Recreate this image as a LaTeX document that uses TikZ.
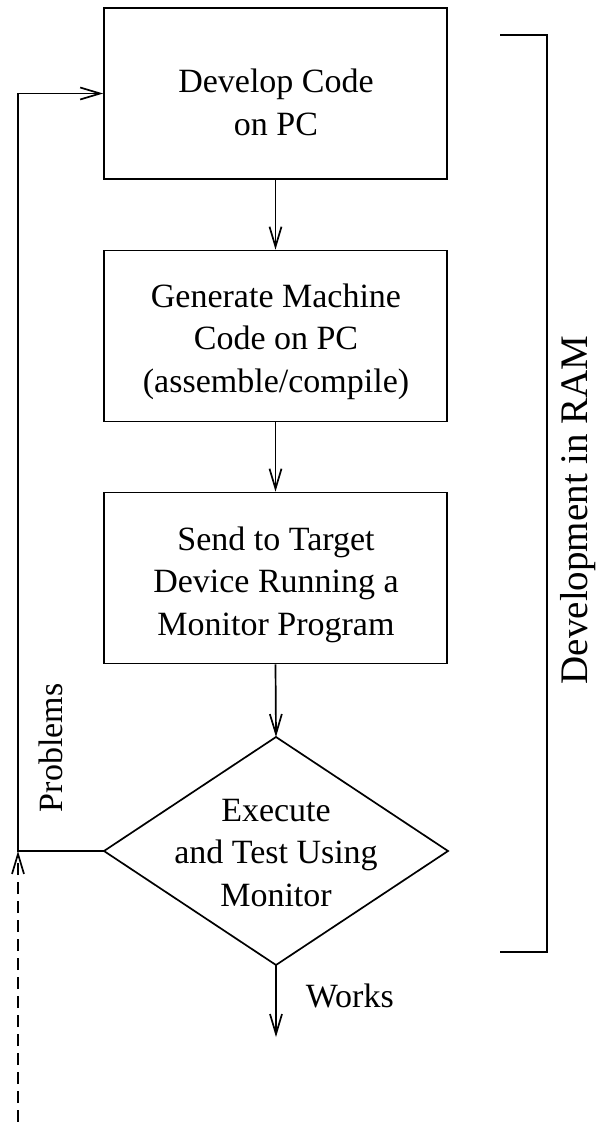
\documentclass[tikz,border=0pt]{standalone}
\usepackage{fontspec}
\setmainfont{Liberation Serif}
\usetikzlibrary{arrows.meta}
\begin{document}
\begin{tikzpicture}[x=1pt,y=-1pt,line width=1.7pt,
  box/.style={draw,minimum width=343pt,minimum height=171pt,inner sep=0pt},
  txt/.style={font=\fontsize{34}{42.5}\selectfont,align=center,inner sep=0pt},
  arr/.style={-{Straight Barb[length=20pt,width=12pt]}}]
\useasboundingbox (0,0) rectangle (597,1122);
% boxes
\node[box] (b1) at (275.5,93.5) {};
\node[box] (b2) at (275.5,336) {};
\node[box] (b3) at (275.5,578) {};
\node[txt] (t1) at (276,102.5) {Develop Code\\on PC};
\node[txt] (t2) at (276,341.5) {Generate Machine\\Code on PC\\(assemble/compile)};
\node[txt] (t3) at (276,584.5) {Send to Target\\Device Running a\\Monitor Program};
% diamond
\coordinate (dtop) at (276,737);
\coordinate (dright) at (448,851);
\coordinate (dbot) at (276,965);
\coordinate (dleft) at (104,851);
\draw (dtop) -- (dright) -- (dbot) -- (dleft) -- cycle;
\node[txt] (t4) at (276,853) {Execute\\and Test Using\\Monitor};
% flow arrows
\draw[arr] (b1.south) -- (b2.north);
\draw[arr] (b2.south) -- (b3.north);
\draw[arr] (b3.south) -- (dtop);
\coordinate (wend) at (276,1037);
\draw[arr] (dbot) -- (wend);
\node[txt,anchor=base west] (works) at (305,1007) {Works};
% loop back
\coordinate (lc) at (18,851);
\draw[arr] (dleft) -- (lc) |- (b1.west);
\coordinate (ds) at (18,1122);
\draw[arr,dash pattern=on 12pt off 7pt] (ds) -- (lc);
\node[txt,rotate=90,anchor=base west] (prob) at (62,813) {Problems};
% bracket
\coordinate (bt) at (500,35);
\coordinate (bb) at (500,952);
\draw (bt) -- ++(47,0) -- ++(0,917) -- (bb);
\node[font=\fontsize{39}{47}\selectfont,rotate=90,anchor=base west,inner sep=0pt] (ram) at (587,685) {Development in RAM};
\end{tikzpicture}
\end{document}
